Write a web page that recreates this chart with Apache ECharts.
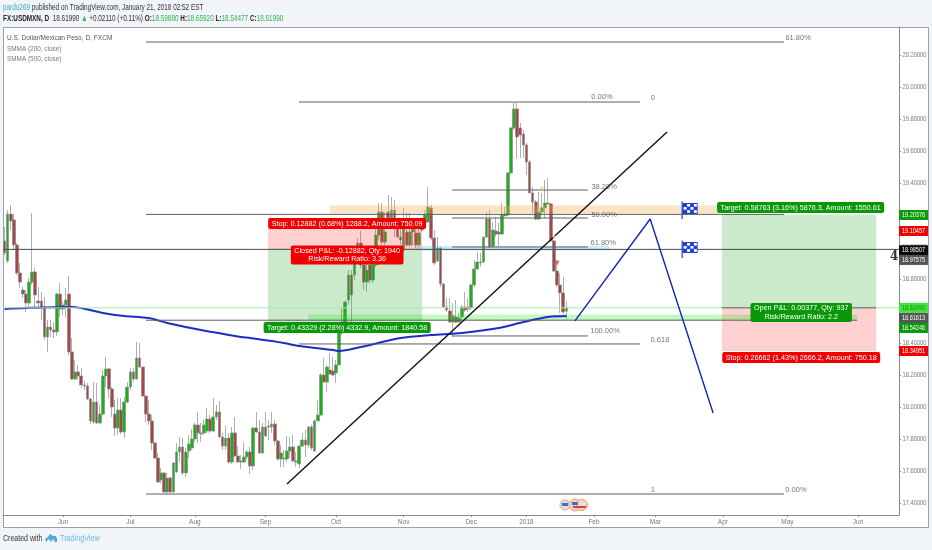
<!DOCTYPE html>
<html><head><meta charset="utf-8">
<style>html,body{margin:0;padding:0;background:#f1f4f8}#c{width:932px;height:550px}</style>
<script src="https://cdn.jsdelivr.net/npm/echarts@6/dist/echarts.min.js"></script>
</head><body><div id="c"></div>
<script>
// bar index runs over trading days; values are USD/MXN prices
const opens=[19.038,18.913,19.206,19.169,19.013,18.838,18.731,18.706,18.650,18.781,18.844,18.663,18.663,18.625,18.438,18.500,18.481,18.469,18.706,18.613,18.638,18.706,18.344,18.175,18.219,18.194,18.138,18.131,18.050,17.906,18.031,17.900,17.956,18.194,18.238,18.113,17.956,17.869,17.981,17.844,18.031,18.125,18.219,18.175,18.306,18.250,18.069,17.956,17.913,17.775,17.681,17.544,17.588,17.469,17.556,17.469,17.594,17.719,17.750,17.588,17.725,17.744,17.800,17.888,17.838,17.838,17.850,17.925,17.850,17.938,17.969,17.813,17.756,17.806,17.656,17.838,17.694,17.663,17.656,17.688,17.719,17.631,17.869,17.844,17.713,17.875,17.875,17.875,17.894,17.788,17.675,17.681,17.675,17.725,17.750,17.663,17.644,17.756,17.794,17.763,17.875,17.725,17.913,17.950,18.200,18.156,18.231,18.225,18.213,18.263,18.463,18.531,18.669,18.825,18.825,18.938,19.025,18.888,18.781,18.888,18.794,18.888,19.075,19.219,19.031,19.219,19.181,19.231,19.119,19.063,18.981,19.094,19.013,19.094,19.088,19.013,19.106,19.156,19.156,19.244,19.056,18.913,18.994,18.769,18.625,18.600,18.531,18.563,18.531,18.563,18.625,18.625,18.619,18.763,18.863,18.906,18.906,19.063,19.175,19.006,19.100,19.094,19.081,19.194,19.200,19.463,19.744,19.863,19.744,19.706,19.638,19.531,19.338,19.281,19.175,19.219,19.244,19.275,19.269,19.038,18.850,18.763,18.713,18.5988];
const closes=[18.963,19.206,19.163,19.013,18.838,18.781,18.706,18.650,18.781,18.844,18.700,18.650,18.625,18.438,18.500,18.481,18.469,18.706,18.613,18.638,18.669,18.344,18.175,18.219,18.194,18.138,18.131,18.050,17.913,18.031,17.900,17.956,18.194,18.238,18.113,18.000,17.869,17.981,17.844,18.031,18.125,18.219,18.175,18.306,18.250,18.069,17.956,17.913,17.775,17.681,17.531,17.588,17.469,17.556,17.469,17.650,17.719,17.750,17.588,17.719,17.769,17.800,17.888,17.838,17.831,17.888,17.925,17.850,17.938,17.969,17.813,17.756,17.806,17.656,17.838,17.694,17.656,17.656,17.688,17.719,17.631,17.869,17.844,17.713,17.875,17.819,17.881,17.894,17.788,17.675,17.713,17.675,17.725,17.750,17.663,17.656,17.756,17.794,17.763,17.875,17.744,17.913,17.950,18.200,18.156,18.250,18.206,18.200,18.263,18.463,18.531,18.656,18.825,18.700,18.938,19.025,18.888,18.781,18.856,18.794,18.888,19.075,19.219,19.031,19.094,19.181,19.231,19.119,19.063,19.044,19.138,19.013,19.094,19.119,19.013,19.088,19.156,19.200,19.250,19.056,18.900,18.994,18.769,18.625,18.606,18.531,18.569,18.531,18.556,18.625,18.606,18.613,18.763,18.863,18.906,18.900,19.063,19.175,19.000,19.106,19.081,19.081,19.200,19.206,19.463,19.744,19.863,19.688,19.700,19.638,19.531,19.338,19.281,19.175,19.219,19.244,19.275,19.269,19.038,18.850,18.763,18.713,18.594,18.6199];
const lows=[18.950,18.900,19.106,18.981,18.825,18.744,18.681,18.594,18.625,18.763,18.625,18.625,18.544,18.419,18.344,18.438,18.431,18.444,18.563,18.575,18.563,18.325,18.169,18.169,18.169,18.119,18.106,18.044,17.894,17.894,17.894,17.894,17.950,18.125,18.056,17.938,17.819,17.825,17.831,17.806,18.025,18.106,18.156,18.169,18.244,18.063,17.906,17.888,17.731,17.675,17.525,17.525,17.463,17.456,17.463,17.463,17.588,17.656,17.575,17.563,17.681,17.731,17.781,17.775,17.781,17.825,17.838,17.838,17.844,17.919,17.806,17.731,17.731,17.644,17.644,17.688,17.650,17.613,17.650,17.675,17.581,17.606,17.838,17.706,17.706,17.813,17.794,17.838,17.763,17.663,17.625,17.625,17.656,17.681,17.656,17.625,17.619,17.750,17.688,17.744,17.731,17.719,17.913,17.944,18.150,18.094,18.200,18.194,18.150,18.263,18.450,18.513,18.638,18.531,18.794,18.906,18.869,18.731,18.719,18.775,18.775,18.875,19.044,19.013,19.013,19.169,19.156,19.063,19.056,19.013,18.969,19.000,19.000,19.006,18.994,19.000,19.094,19.138,19.150,19.044,18.888,18.906,18.750,18.619,18.594,18.525,18.438,18.525,18.525,18.544,18.594,18.594,18.606,18.750,18.856,18.875,18.900,19.056,18.994,18.994,19.063,19.006,19.075,19.194,19.194,19.456,19.731,19.556,19.556,19.556,19.450,19.338,19.213,19.169,19.169,19.200,19.181,19.263,19.031,18.844,18.750,18.588,18.581,18.5448];
const highs=[19.125,19.231,19.263,19.206,19.025,18.900,18.750,18.731,18.806,19.213,18.869,18.750,18.719,18.688,18.544,18.544,18.531,18.713,18.775,18.656,18.744,18.819,18.431,18.294,18.263,18.244,18.163,18.150,18.056,18.156,18.150,18.013,18.231,18.313,18.244,18.125,18.044,18.056,18.056,18.063,18.156,18.244,18.244,18.406,18.400,18.250,18.069,18.044,17.950,17.781,17.713,17.619,17.594,17.588,17.563,17.656,17.775,17.813,17.806,17.744,17.825,17.863,17.900,17.969,17.900,17.919,17.994,17.950,18.056,18.013,18.038,17.838,17.881,17.838,17.875,17.938,17.756,17.700,17.781,17.731,17.750,17.875,17.969,17.919,17.900,17.969,17.919,17.969,17.919,17.794,17.763,17.731,17.819,17.813,17.825,17.719,17.763,17.838,17.856,17.881,17.888,17.925,18.044,18.213,18.306,18.263,18.338,18.313,18.294,18.494,18.625,18.669,18.856,18.856,18.981,19.056,19.100,18.931,18.906,18.919,18.981,19.119,19.275,19.275,19.219,19.325,19.313,19.294,19.150,19.156,19.244,19.213,19.213,19.138,19.119,19.125,19.169,19.231,19.375,19.263,19.106,19.063,19.000,18.775,18.681,18.681,18.650,18.669,18.588,18.638,18.719,18.681,18.775,18.919,18.969,18.963,19.063,19.219,19.231,19.156,19.188,19.150,19.275,19.250,19.469,19.750,19.900,19.900,19.775,19.731,19.650,19.544,19.375,19.294,19.344,19.338,19.419,19.431,19.275,19.044,18.900,18.838,18.813,18.6592];

const smmaBars=[0,7,22,32,39,47,53,64,77,80,91,96,107,109,116,129,139,149,161,169,177,183];
const smmaValues=[18.613,18.619,18.625,18.588,18.569,18.556,18.525,18.481,18.438,18.431,18.400,18.381,18.356,18.350,18.375,18.431,18.450,18.463,18.494,18.531,18.563,18.569];

const monthTickBars=[19,41,62,85,108,130,152,170,192,212,234,255,278];
const monthTickLabels=['Jun','Jul','Aug','Sep','Oct','Nov','Dec','2018','Feb','Mar','Apr','May','Jun'];
const priceTicks=[17.4,17.6,17.8,18.0,18.2,18.4,18.6,18.8,19.0,19.2,19.4,19.6,19.8,20.0,20.2];

// [from bar, to bar, price]
const fibLevels=[[46.1,253.9,20.281],[95.9,207,19.906],[145.8,190,19.356],[145.8,190,19.181],[46.1,253.9,19.20376],[145.8,190,19.0],[46.1,277.7,18.54246],[145.8,190,18.444],[95.9,207,18.394],[46.1,253.9,17.456],[233.7,283.9,18.6199],[85.8,136,18.985]];
const lastPriceLevels=[[-0.5,291.35,18.6199]];
const markedLevels=[[-0.5,291.35,18.98507]];
const trendLine=[[92,17.519],[215.8,19.719]];
const projection=[[185.8,18.538],[210.3,19.175],[230.8,17.963]];

// [from bar, to bar, top price, bottom price]
const lossZones=[[85.8,136,19.181,18.985],[233.7,283.9,18.6199,18.34951]];
const gainZones=[[85.8,136,18.985,18.525],[233.7,283.9,19.20376,18.6199]];
const supplyZones=[[106,232.4,19.259,19.21]];
const demandZones=[[98.9,277.7,18.578,18.54246]];
const pivotZones=[[133.7,197.2,19.006,18.978]];

const fibTexts=[[258.5,20.306,'61.80%'],[194.6,19.938,'0.00%'],[211.2,19.931,'0'],[195.3,19.375,'38.20%'],[195.3,19.2,'50.00%'],[195,19.025,'61.80%'],[195.6,18.475,'100.00%'],[213.5,18.419,'0.618'],[211.2,17.481,'1'],[257.8,17.481,'0.00%']];
const redBoxes=[[111.6,19.147,'Stop: 0.12882 (0.68%) 1288.2, Amount: 750.09'],[111.6,18.95,'Closed P&L: -0.12882, Qty: 1940\nRisk/Reward Ratio: 3.36'],[259.5,18.31,'Stop: 0.26662 (1.43%) 2666.2, Amount: 750.18']];
const greenBoxes=[[111.6,18.497,'Target: 0.43329 (2.28%) 4332.9, Amount: 1840.58'],[259.3,19.247,'Target: 0.58763 (3.16%) 5876.3, Amount: 1550.61'],[259.5,18.591,'Open P&L: 0.00377, Qty: 937\nRisk/Reward Ratio: 2.2']];
const flagPoints=[[223,19.2375],[223,18.994]];
const yellowMarks=[[175,19.363],[179,19.06]];
const redMarks=[[180,18.9]];

// [shown at price, text, fill, text colour]
const priceTags=[[19.2,'19.20376','#0a9a0a','#fff'],[19.1,'19.10457','#f00000','#fff'],[18.98,'18.98507','#0a0a0a','#fff'],[18.919,'18.97575','#555','#fff'],[18.6199,'18.61990','#3fe23f','#128a12'],[18.556,'18.61613','#555','#fff'],[18.494,'18.54246','#0a9a0a','#fff'],[18.35,'18.34951','#f00000','#fff']];

const FONT='"Liberation Sans",Arial,sans-serif';
const NARROW=0.9;
const measure=document.createElement('canvas').getContext('2d');
const textWidth=(t,font)=>{measure.font=font;return Math.max(...t.split('\n').map(l=>measure.measureText(l).width))};
const candleData=opens.map((o,i)=>[i,o,closes[i],lows[i],highs[i]]);
const segs=a=>{const r=[];a.forEach(s=>{r.push([s[0],s[2]],[s[1],s[2]],['-','-'])});return r};
const lineSeries=(data,color,width,z)=>({type:'line',data,showSymbol:false,symbol:'none',silent:true,connectNulls:false,z:z||4,animation:false,lineStyle:{color,width}});
const zoneSeries=(data,color)=>({type:'custom',data,silent:true,z:3,animation:false,clip:true,
  renderItem(p,api){const a=api.coord([api.value(0),api.value(2)]),b=api.coord([api.value(1),api.value(3)]);
    return {type:'rect',shape:{x:a[0],y:a[1],width:b[0]-a[0],height:b[1]-a[1]},style:{fill:color}}},
  encode:{x:[0,1],y:[2,3]}});
const textSeries=(data,label)=>({type:'scatter',data:data.map(d=>[d[0],d[1],d[2]]),symbolSize:1,silent:true,z:9,animation:false,itemStyle:{color:'transparent'},
  label:Object.assign({show:true,position:'inside',fontFamily:FONT,formatter:p=>p.data[2]},label)});
const boxSeries=(boxes,fill)=>({type:'custom',data:boxes.map(b=>[b[0],b[1]]),silent:true,z:12,animation:false,encode:{x:0,y:1},
  renderItem(p,api){const c=api.coord([api.value(0),api.value(1)]),t=boxes[p.dataIndex][2],font='8px '+FONT;
    const two=t.indexOf('\n')>=0,h=two?19:11,w=textWidth(t,font)*NARROW+7;
    return {type:'group',children:[
      {type:'rect',shape:{x:c[0]-w/2,y:c[1]-h/2,width:w,height:h,r:2},style:{fill}},
      {type:'text',x:c[0],y:c[1],scaleX:NARROW,style:{x:0,y:0,text:t,fill:'#fff',font,lineHeight:8.5,textAlign:'center',textVerticalAlign:'middle'}}]}}});
const narrowText=(x,y,text,size,fill,rich,scale)=>({type:'text',x,y,scaleX:scale||0.74,z:30,style:{text,fill,font:size+'px '+FONT,rich:rich||{}}});

const chart=echarts.init(document.getElementById('c'),null,{renderer:'canvas'});
chart.setOption({
  animation:false,backgroundColor:'#f1f4f8',
  graphic:[
   {type:'rect',z:-10,shape:{x:3.5,y:27.5,width:925,height:500},style:{fill:'#fff',stroke:'#a0a0a0',lineWidth:1}},
   narrowText(3,3,'{b|pardo269} published on TradingView.com, January 21, 2018 02:52 EST',9,'#333',{b:{fill:'#45a6d8',font:'9px '+FONT}},0.71),
   narrowText(3,14,'{k|FX:USDMXN, D}  18.61990 {g|▲} +0.02110 (+0.11%) {k|O:}{g|18.59880} {k|H:}{g|18.65920} {k|L:}{g|18.54477} {k|C:}{g|18.61990}',9,'#333',{k:{fill:'#222',font:'bold 9px '+FONT},g:{fill:'#33b54a',font:'9px '+FONT}},0.71),
   narrowText(7,34,'U.S. Dollar/Mexican Peso, D, FXCM',8,'#555',null,0.82),
   narrowText(7,45,'SMMA (200, close)',8,'#777',null,0.8),
   narrowText(7,55,'SMMA (500, close)',8,'#777',null,0.8),
   narrowText(3,534,'Created with',9,'#333',null,0.78),
   narrowText(60,534,'TradingView',9,'#6db8e0',null,0.8),
   {type:'polygon',x:45,y:533,shape:{points:[[1,9],[0,6],[3,4],[5,1],[8,3],[11,3],[12,6],[12,9],[10,9],[8,6],[6,9],[4,6]]},style:{fill:'#53a7da'}},
   {type:'text',x:890,y:251,z:50,style:{text:'4',font:'bold 12px "DejaVu Serif",serif',fill:'#333'}},
   {type:'group',x:558,y:498,z:50,children:[
     {type:'circle',shape:{cx:7,cy:7,r:5},style:{fill:'#d9e2f2',stroke:'#f0a050',lineWidth:1}},
     {type:'circle',shape:{cx:17,cy:7,r:6},style:{fill:'#e8d0d8',stroke:'#f0a050',lineWidth:1}},
     {type:'circle',shape:{cx:24,cy:7,r:5.5},style:{fill:'#f4d8d8',stroke:'#f0a050',lineWidth:1}},
     {type:'rect',shape:{x:4,y:5,width:6,height:3},style:{fill:'#3f6fc6'}},
     {type:'rect',shape:{x:14,y:4,width:6,height:3},style:{fill:'#3f6fc6'}},
     {type:'rect',shape:{x:15,y:8,width:13,height:2},style:{fill:'#e0403a'}}]}
  ],
  grid:{left:3,right:33,top:27,bottom:35,containLabel:false,show:false},
  xAxis:{type:'value',min:-0.5,max:291.35,splitLine:{show:false},
    axisLine:{show:true,onZero:false,lineStyle:{color:'#8a8a8a'}},
    axisTick:{show:true,length:2,customValues:monthTickBars,lineStyle:{color:'#8a8a8a'}},
    axisLabel:{color:'#777',fontFamily:FONT,fontSize:6.5,margin:4,customValues:monthTickBars,
      formatter:v=>monthTickLabels[monthTickBars.indexOf(v)]||''}},
  yAxis:{type:'value',position:'right',min:17.325,max:20.375,scale:true,splitLine:{show:false},
    axisLine:{show:true,onZero:false,lineStyle:{color:'#8a8a8a'}},
    axisTick:{show:true,length:2,customValues:priceTicks,lineStyle:{color:'#8a8a8a'}},
    axisLabel:{show:false}},
  series:[
   {type:'candlestick',data:candleData,encode:{x:0,y:[1,2,3,4]},barWidth:3.2,z:2,silent:true,animation:false,
    itemStyle:{color:'#14b414',color0:'#a8444a',borderColor:'#8c8c8c',borderColor0:'#8c8c8c',borderColorDoji:'#666',borderWidth:0.7}},
   zoneSeries(lossZones,'rgba(255,60,60,0.24)'),
   zoneSeries(gainZones,'rgba(30,160,30,0.23)'),
   zoneSeries(supplyZones,'rgba(240,170,70,0.32)'),
   zoneSeries(demandZones,'rgba(30,230,30,0.27)'),
   zoneSeries(pivotZones,'rgba(60,190,230,0.28)'),
   Object.assign(lineSeries(smmaBars.map((b,i)=>[b,smmaValues[i]]),'#1c2dc4',2),{smooth:0.3}),
   lineSeries(segs(lastPriceLevels),'#a8eba8',1),
   lineSeries(segs(markedLevels),'#4a4a4a',1),
   lineSeries(segs(fibLevels),'#5f5f5f',1),
   lineSeries(trendLine,'#111',1.4,5),
   lineSeries(projection,'#1424b8',1.4,5),
   {type:'scatter',data:yellowMarks,symbol:'triangle',symbolSize:4,symbolRotate:180,silent:true,z:6,itemStyle:{color:'#e8d86a'}},
   {type:'scatter',data:redMarks,symbol:'triangle',symbolSize:5,symbolRotate:180,silent:true,z:6,itemStyle:{color:'#d84040'}},
   {type:'custom',data:flagPoints,silent:true,z:7,animation:false,encode:{x:0,y:1},
    renderItem(p,api){const c=api.coord([api.value(0),api.value(1)]),x=c[0]-7,y=c[1]-6;
      const kids=[{type:'line',shape:{x1:x,y1:y-1.5,x2:x,y2:y+16},style:{stroke:'#1f3fd0',lineWidth:1.2}},
                  {type:'rect',shape:{x:x+0.5,y:y,width:15,height:11},style:{fill:'#1f3fd0'}}];
      for(let r=0;r<3;r++)for(let k=0;k<4;k++)if((r+k)%2)kids.push({type:'rect',shape:{x:x+1.5+k*3.4,y:y+1+r*3.1,width:3,height:2.6},style:{fill:'#fff'}});
      return {type:'group',children:kids}}},
   textSeries(fibTexts,{color:'#555',fontSize:7.5}),
   boxSeries(redBoxes,'#f00000'),
   boxSeries(greenBoxes,'#0a980a'),
   {type:'custom',data:priceTicks.map(v=>[291.35,v]),silent:true,z:8,clip:false,animation:false,encode:{y:1},
    renderItem(p,api){const c=api.coord([api.value(0),api.value(1)]);
      return {type:'text',x:c[0]+15.5,y:c[1],scaleX:0.76,style:{x:0,y:0,text:priceTicks[p.dataIndex].toFixed(5),fill:'#777',font:'7.5px '+FONT,textAlign:'center',textVerticalAlign:'middle'}}}},
   {type:'custom',data:priceTags.map(t=>[291.35,t[0]]),silent:true,z:20,clip:false,animation:false,encode:{y:1},
    renderItem(p,api){const c=api.coord([api.value(0),api.value(1)]);const d=priceTags[p.dataIndex];
      return {type:'group',children:[
        {type:'rect',shape:{x:c[0],y:c[1]-5,width:29,height:10},style:{fill:d[2]}},
        {type:'text',x:c[0]+14.5,y:c[1],scaleX:0.74,style:{x:0,y:0,text:d[1],fill:d[3],font:'7.5px '+FONT,textAlign:'center',textVerticalAlign:'middle'}}]}}}
  ]
});
</script></body></html>
